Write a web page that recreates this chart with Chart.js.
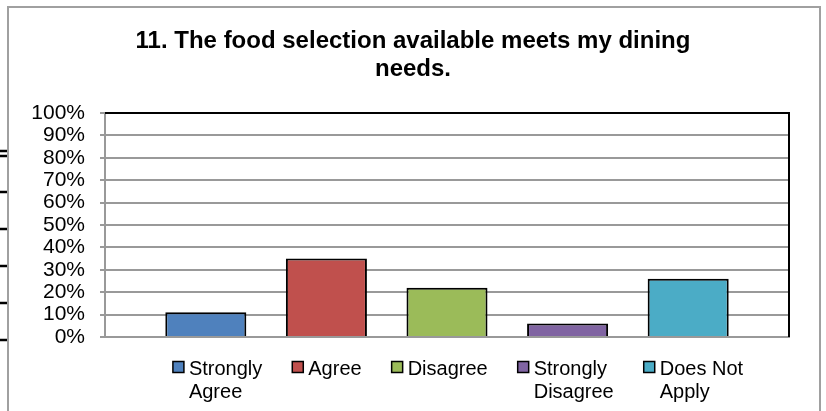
<!DOCTYPE html>
<html>
<head>
<meta charset="utf-8">
<script src="https://cdn.jsdelivr.net/npm/chart.js@4/dist/chart.umd.min.js"></script>
<style>
  html, body { margin: 0; padding: 0; background: #fff; }
  #wrap { width: 826px; height: 411px; position: relative; }
</style>
</head>
<body>
<div id="wrap"><canvas id="c" width="826" height="411"></canvas></div>
<script>
const titleLines = ['11. The food selection available meets my dining', 'needs.'];
const categories = ['Strongly Agree', 'Agree', 'Disagree', 'Strongly Disagree', 'Does Not Apply'];
const legendLines = [['Strongly', 'Agree'], ['Agree'], ['Disagree'], ['Strongly', 'Disagree'], ['Does Not', 'Apply']];
const values = [11, 35, 22, 6, 26];
const colors = ['#4F81BD', '#C0504D', '#9BBB59', '#8064A2', '#4BACC6'];
const yTicks = [0, 10, 20, 30, 40, 50, 60, 70, 80, 90, 100];

const FONT = '"Liberation Sans", Arial, sans-serif';

const decoPlugin = {
  id: 'deco',
  beforeDraw(chart) {
    const ctx = chart.ctx;
    ctx.save();
    ctx.fillStyle = '#fff';
    ctx.fillRect(0, 0, chart.width, chart.height);
    // outer frame
    ctx.strokeStyle = '#a0a0a0';
    ctx.lineWidth = 2;
    ctx.beginPath();
    ctx.moveTo(8, 430); ctx.lineTo(8, 7); ctx.lineTo(820, 7); ctx.lineTo(820, 430);
    ctx.stroke();
    // stray marks on the left edge
    ctx.strokeStyle = '#000';
    ctx.lineWidth = 2.5;
    [151, 156, 192, 229, 266, 303, 340].forEach(y => {
      ctx.beginPath(); ctx.moveTo(0, y); ctx.lineTo(7, y); ctx.stroke();
    });
    ctx.restore();
  },
  afterDraw(chart) {
    const ctx = chart.ctx;
    const a = chart.chartArea;
    ctx.save();
    // plot border top and right in black
    ctx.strokeStyle = '#000';
    ctx.lineWidth = 2;
    ctx.beginPath();
    ctx.moveTo(a.left, a.top); ctx.lineTo(a.right, a.top); ctx.lineTo(a.right, a.bottom);
    ctx.stroke();
    // title
    ctx.fillStyle = '#000';
    ctx.font = 'bold 24px ' + FONT;
    ctx.textAlign = 'center';
    ctx.textBaseline = 'alphabetic';
    ctx.fillText(titleLines[0], chart.width / 2, 48);
    ctx.fillText(titleLines[1], chart.width / 2, 76);
    // legend
    ctx.font = '20px ' + FONT;
    ctx.textAlign = 'left';
    const box = 11, gapText = 16, gapItem = 30;
    const widths = legendLines.map(ls => gapText + Math.max(...ls.map(l => ctx.measureText(l).width)));
    const total = widths.reduce((s, w) => s + w, 0) + gapItem * (widths.length - 1);
    let x = 458 - total / 2;
    const ds = chart.data.datasets[0];
    legendLines.forEach((ls, i) => {
      ctx.fillStyle = ds.backgroundColor[i];
      ctx.fillRect(x, 361.5, box, box);
      ctx.strokeStyle = '#000';
      ctx.lineWidth = 1.5;
      ctx.strokeRect(x, 361.5, box, box);
      ctx.fillStyle = '#000';
      ls.forEach((l, j) => ctx.fillText(l, x + gapText, 375 + j * 23));
      x += widths[i] + gapItem;
    });
    ctx.restore();
  }
};

new Chart(document.getElementById('c'), {
  type: 'bar',
  data: {
    labels: categories,
    datasets: [{
      data: values,
      backgroundColor: colors,
      borderColor: '#000',
      borderWidth: 2,
      barPercentage: 0.672,
      categoryPercentage: 1.0
    }]
  },
  options: {
    responsive: false,
    animation: false,
    devicePixelRatio: 1,
    layout: { padding: { top: 113, left: 0, right: 37, bottom: 74 } },
    plugins: { legend: { display: false }, title: { display: false }, tooltip: { enabled: false } },
    scales: {
      x: {
        offset: false,
        grid: { display: false },
        ticks: { display: false },
        border: { display: true, color: '#999', width: 2 },
        afterBuildTicks(s) { s._startValue = -0.836; s._valueRange = 5.672; },
        afterFit(s) { s.height = 0; }
      },
      y: {
        min: 0, max: 100,
        afterBuildTicks(s) { s.ticks = yTicks.map(v => ({ value: v })); },
        ticks: {
          autoSkip: false,
          stepSize: 10,
          padding: 15,
          color: '#000',
          font: { family: FONT, size: 21 },
          callback: v => v + '%'
        },
        grid: { color: '#999', lineWidth: 2, tickLength: 5 },
        border: { display: true, color: '#999', width: 2 },
        afterFit(s) { s.width = 105; }
      }
    }
  },
  plugins: [decoPlugin]
});
</script>
</body>
</html>
